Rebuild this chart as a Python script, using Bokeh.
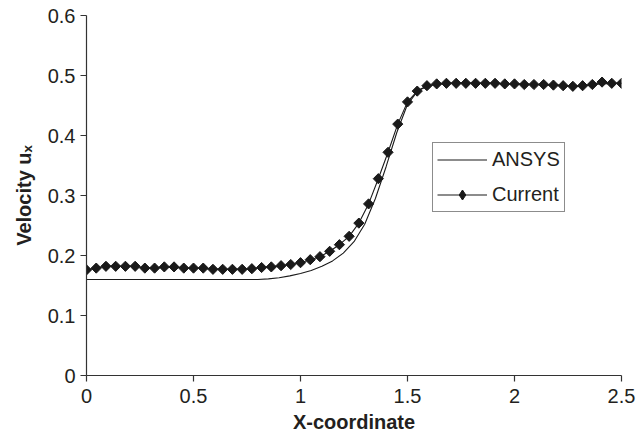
from math import pi
from bokeh.plotting import figure
from bokeh.models import (Range1d, FixedTicker, NumeralTickFormatter, Legend, LegendItem)
from bokeh.embed import file_html
from bokeh.resources import INLINE

# ---- data ----
current_x = [0, 0.0455, 0.0909, 0.1364, 0.1818, 0.2273, 0.2727, 0.3182, 0.3636, 0.4091,
             0.4545, 0.5, 0.5455, 0.5909, 0.6364, 0.6818, 0.7273, 0.7727, 0.8182, 0.8636,
             0.9091, 0.9545, 1.0, 1.0455, 1.0909, 1.1364, 1.1818, 1.2273, 1.2727, 1.3182,
             1.3636, 1.4091, 1.4545, 1.5, 1.5455, 1.5909, 1.6364, 1.6818, 1.7273, 1.7727,
             1.8182, 1.8636, 1.9091, 1.9545, 2.0, 2.0455, 2.0909, 2.1364, 2.1818, 2.2273,
             2.2727, 2.3182, 2.3636, 2.4091, 2.4545, 2.5]
current_u = [0.176, 0.179, 0.182, 0.182, 0.182, 0.182, 0.179, 0.179, 0.181, 0.181,
             0.179, 0.179, 0.179, 0.177, 0.177, 0.177, 0.177, 0.178, 0.180, 0.181,
             0.183, 0.185, 0.188, 0.193, 0.198, 0.207, 0.218, 0.232, 0.254, 0.286,
             0.328, 0.372, 0.419, 0.456, 0.474, 0.483, 0.486, 0.487, 0.487, 0.487,
             0.487, 0.487, 0.487, 0.486, 0.486, 0.485, 0.485, 0.485, 0.484, 0.483,
             0.482, 0.483, 0.485, 0.489, 0.487, 0.487]

ansys_x = [0, 0.8, 0.85, 0.9, 0.95, 1.0, 1.05, 1.1, 1.15, 1.2, 1.25, 1.3, 1.35, 1.4,
           1.45, 1.5, 1.55, 1.6, 1.65, 1.7, 1.8, 1.9, 2.0, 2.1, 2.2, 2.3, 2.4, 2.5]
ansys_u = [0.160, 0.160, 0.161, 0.163, 0.166, 0.170, 0.175, 0.182, 0.191, 0.204,
           0.223, 0.252, 0.295, 0.348, 0.405, 0.452, 0.475, 0.483, 0.486, 0.487,
           0.487, 0.487, 0.486, 0.485, 0.484, 0.482, 0.486, 0.487]

x_ticks = [0, 0.5, 1, 1.5, 2, 2.5]
y_ticks = [0, 0.1, 0.2, 0.3, 0.4, 0.5, 0.6]

FONT = "Liberation Sans"
INK = "#231f20"
LINE = "#1a1a1a"

p = figure(width=638, height=440, output_backend="svg", toolbar_location=None,
           x_range=Range1d(0, 2.5), y_range=Range1d(0, 0.6))
p.min_border_left = 86
p.min_border_right = 17
p.min_border_top = 15
p.min_border_bottom = 65
p.outline_line_color = None
p.xgrid.visible = False
p.ygrid.visible = False
p.background_fill_color = "white"
p.border_fill_color = "white"

ansys_r = p.line(ansys_x, ansys_u, line_color=LINE, line_width=1.1)
cur_line = p.line(current_x, current_u, line_color=LINE, line_width=1.1)
cur_pts = p.scatter(current_x, current_u, marker="square", angle=pi / 4, size=7.2,
                    fill_color=LINE, line_color=LINE)
# legend swatch marker (legend swatches ignore marker rotation); it sits hidden
# inside the first plotted diamond
leg_mark = p.scatter(x=current_x[:1], y=current_u[:1], marker="diamond", size=9,
                     fill_color=LINE, line_color=LINE)

for ax, ticks in ((p.xaxis[0], x_ticks), (p.yaxis[0], y_ticks)):
    ax.ticker = FixedTicker(ticks=ticks)
    ax.formatter = NumeralTickFormatter(format="0.[0]")
    ax.axis_line_color = "#333333"
    ax.axis_line_width = 1.2
    ax.major_tick_line_color = "#333333"
    ax.major_tick_line_width = 1.2
    ax.major_tick_out = 6
    ax.major_tick_in = 0
    ax.minor_tick_line_color = None
    ax.major_label_text_font = FONT
    ax.major_label_text_font_size = "20px"
    ax.major_label_text_color = INK
    ax.major_label_standoff = 5
    ax.axis_label_text_font = FONT
    ax.axis_label_text_font_style = "bold"
    ax.axis_label_text_font_size = "20px"
    ax.axis_label_text_color = INK

p.xaxis.major_label_standoff = 7
p.xaxis.axis_label = "X-coordinate"
p.xaxis.axis_label_standoff = 5
p.yaxis.axis_label = "Velocity u\u2093"
p.yaxis.axis_label_standoff = 10

legend = Legend(items=[LegendItem(label="ANSYS", renderers=[ansys_r]),
                       LegendItem(label="Current", renderers=[cur_line, leg_mark])],
                location=(346, 163), margin=0, padding=4, spacing=10,
                glyph_width=50, glyph_height=25, label_height=25, label_standoff=5,
                label_text_font=FONT, label_text_font_size="20px", label_text_color=INK,
                border_line_color=LINE, border_line_width=1.2,
                background_fill_color="white", background_fill_alpha=1.0)
p.add_layout(legend)

open("out.html", "w").write(file_html(p, INLINE))
